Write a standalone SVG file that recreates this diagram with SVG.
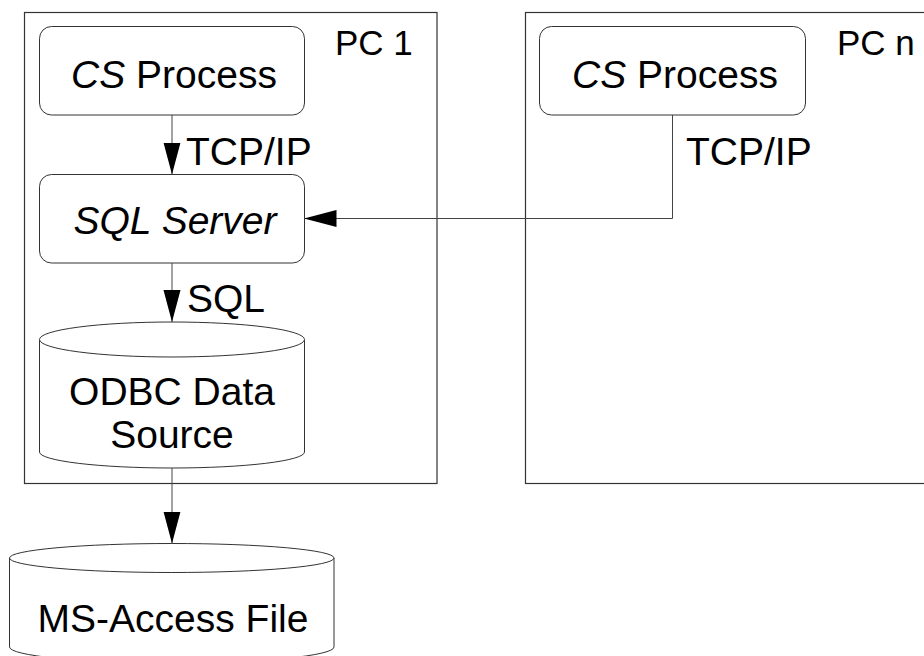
<svg xmlns="http://www.w3.org/2000/svg" width="924" height="656" viewBox="0 0 924 656">
<style>
  .frame { fill: none; stroke: #333; stroke-width: 1.2; }
  .node { fill: #fff; stroke: #333; stroke-width: 1; }
  .edge { fill: none; stroke: #444; stroke-width: 1; }
  text { font-family: "Liberation Sans", Arial, sans-serif; font-size: 39px; fill: #000; }
  .pc { font-size: 35px; }
  .c { text-anchor: middle; }
</style>
<defs>
  <marker id="arrow" markerUnits="userSpaceOnUse" markerWidth="32" markerHeight="18" viewBox="0 0 30 16" refX="30" refY="8" orient="auto">
    <path d="M0,0 L30,8 L0,16 Z" fill="#000"/>
  </marker>
</defs>
<rect width="924" height="656" fill="#fff"/>

<g id="pc1">
  <rect class="frame" x="24.5" y="12.5" width="412.5" height="471"/>
  <text class="pc" x="335" y="55">PC 1</text>
</g>
<g id="pcn">
  <rect class="frame" x="525.5" y="12.5" width="430" height="471"/>
  <text class="pc" x="837" y="55">PC n</text>
</g>

<g id="cs1">
  <rect class="node" x="39.5" y="26.5" width="265" height="88.5" rx="12"/>
  <text class="c" x="174" y="88"><tspan font-style="italic">CS</tspan> Process</text>
</g>
<g id="sqlserver">
  <rect class="node" x="39.5" y="174.5" width="265" height="88.5" rx="12"/>
  <text class="c" x="175" y="234" font-style="italic">SQL Server</text>
</g>
<g id="csn">
  <rect class="node" x="539.5" y="26.5" width="266" height="88.5" rx="12"/>
  <text class="c" x="675" y="88"><tspan font-style="italic">CS</tspan> Process</text>
</g>
<g id="odbc">
  <path class="node" d="M39.5,339.5 L39.5,452 A132.5,16 0 0 0 304.5,452 L304.5,339.5"/>
  <ellipse class="node" cx="172" cy="339.5" rx="132.5" ry="17.5"/>
  <text class="c" x="172" y="405">ODBC Data</text>
  <text class="c" x="172" y="448">Source</text>
</g>
<g id="msaccess">
  <path class="node" d="M9.5,558 L9.5,647 A162.25,16 0 0 0 334,647 L334,558"/>
  <ellipse class="node" cx="171.75" cy="558" rx="162.25" ry="14.5"/>
  <text class="c" x="173" y="632">MS-Access File</text>
</g>

<g id="connectors">
  <line class="edge" x1="172" y1="115" x2="172" y2="174.5" marker-end="url(#arrow)"/>
  <text x="186" y="165">TCP/IP</text>
  <line class="edge" x1="172" y1="263" x2="172" y2="322" marker-end="url(#arrow)"/>
  <text x="187" y="311.5">SQL</text>
  <line class="edge" x1="172" y1="468" x2="172" y2="543.5" marker-end="url(#arrow)"/>
  <path class="edge" d="M672.5,115 V218.5 H304.5" marker-end="url(#arrow)"/>
  <text x="686" y="165">TCP/IP</text>
</g>
</svg>
